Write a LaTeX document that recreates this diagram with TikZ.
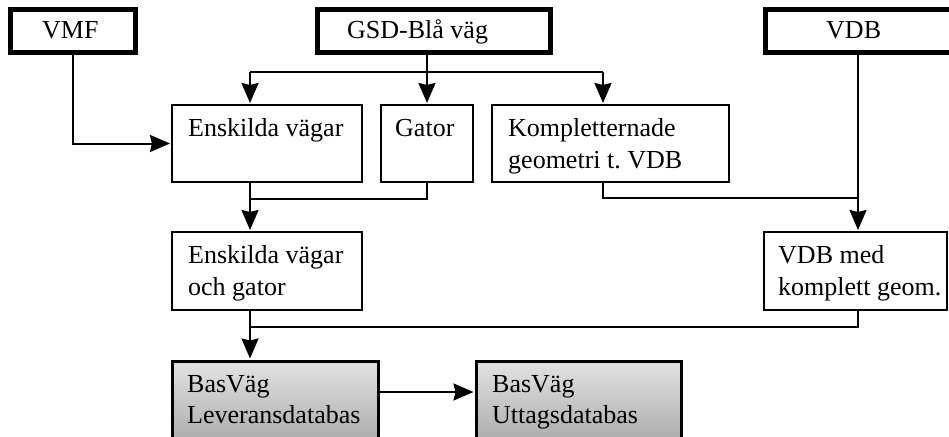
\documentclass[tikz,border=0pt]{standalone}
\usepackage{fontspec}
\setmainfont{Liberation Serif}
\usetikzlibrary{arrows.meta}
\frenchspacing
\pgfdeclareverticalshading{boxgrad}{100bp}{color(0bp)=(black!45); color(100bp)=(white)}
\tikzset{
  srcbox/.style={draw, line width=5pt, inner sep=0pt, rectangle},
  plainbox/.style={draw, line width=2pt, inner sep=0pt, rectangle},
  dbbox/.style={draw, line width=3pt, inner sep=0pt, rectangle, shading=boxgrad},
  txt/.style={anchor=base west, inner sep=0pt, font=\fontsize{26}{31}\selectfont},
  conn/.style={line width=2pt},
  arr/.style={line width=2pt, -{Stealth[length=20pt,width=17pt,inset=2pt]}, shorten >=1pt},
}
\begin{document}
\begin{tikzpicture}[x=1pt,y=-1pt]
\useasboundingbox (0,0) rectangle (949,436);
\clip (0,0) rectangle (949,436);
\fill[white] (0,0) rectangle (949,436);

% source boxes
\node[srcbox, minimum width=125pt, minimum height=43pt] (VMF) at (73,31) {};
\node[srcbox, minimum width=232.5pt, minimum height=43pt] (GSD) at (433.75,31) {};
\node[srcbox, minimum width=195pt, minimum height=43pt] (VDB) at (862.5,31) {};
\node[txt] (tVMF) at (42,39) {VMF};
\node[txt] (tGSD) at (347,39) {GSD-Blå väg};
\node[txt] (tVDB) at (826,39) {VDB};

% middle boxes
\node[plainbox, minimum width=190pt, minimum height=77pt] (Ensk) at (267,143.5) {};
\node[plainbox, minimum width=92pt, minimum height=77pt] (Gator) at (427,143.5) {};
\node[plainbox, minimum width=237pt, minimum height=77pt] (Komp) at (610.5,143.5) {};
\node[plainbox, minimum width=190pt, minimum height=78pt] (EOG) at (267,271) {};
\node[plainbox, minimum width=183pt, minimum height=78pt] (VDBm) at (855.5,271) {};
\node[txt] (tEnsk) at (188,136) {Enskilda vägar};
\node[txt] (tGator) at (395,136) {Gator};
\node[txt] (tKomp1) at (508,136) {Kompletternade};
\node[txt] (tKomp2) at (508,168) {geometri t. VDB};
\node[txt] (tEOG1) at (188,263) {Enskilda vägar};
\node[txt] (tEOG2) at (188,295) {och gator};
\node[txt] (tVDBm1) at (778,263) {VDB med};
\node[txt] (tVDBm2) at (778,295) {komplett geom.};

% database boxes
\node[dbbox, minimum width=206pt, minimum height=85pt] (BasL) at (275,403.5) {};
\node[dbbox, minimum width=205pt, minimum height=85pt] (BasU) at (578.5,403.5) {};
\node[txt] (tBasL1) at (187,392) {BasVäg};
\node[txt] (tBasL2) at (187,423) {Leveransdatabas};
\node[txt] (tBasU1) at (492,392) {BasVäg};
\node[txt] (tBasU2) at (492,423) {Uttagsdatabas};

% helper coordinates
\coordinate (xE) at (250,71.5);
\coordinate (xK) at (603,71.5);
\coordinate (m1) at (250,199);
\coordinate (xV) at (858,198);
\coordinate (m2) at (250,327);
\coordinate (ab) at (378,392);

% connectors
\draw[arr] (VMF.south) |- (Ensk.west);
\draw[conn] (xE) -- (xK);
\draw[conn] (GSD.south -| Gator.north) -- (xE -| Gator.north);
\draw[arr] (xE -| Gator.north) -- (Gator.north);
\draw[arr] (xE) -- (xE |- Ensk.north);
\draw[arr] (xK) -- (xK |- Komp.north);

\draw[conn] (m1 |- Ensk.south) -- (m1) -| (Gator.south);
\draw[arr] (m1) -- (m1 |- EOG.north);

\draw[conn] (xK |- Komp.south) |- (xV);
\draw[arr] (xV |- VDB.south) -- (xV |- VDBm.north);

\draw[conn] (m2 |- EOG.south) -- (m2) -- (m2 -| xV) -- (xV |- VDBm.south);
\draw[arr] (m2) -- (m2 |- BasL.north);

\draw[arr] (ab -| BasL.east) -- (ab -| BasU.west);
\end{tikzpicture}
\end{document}
